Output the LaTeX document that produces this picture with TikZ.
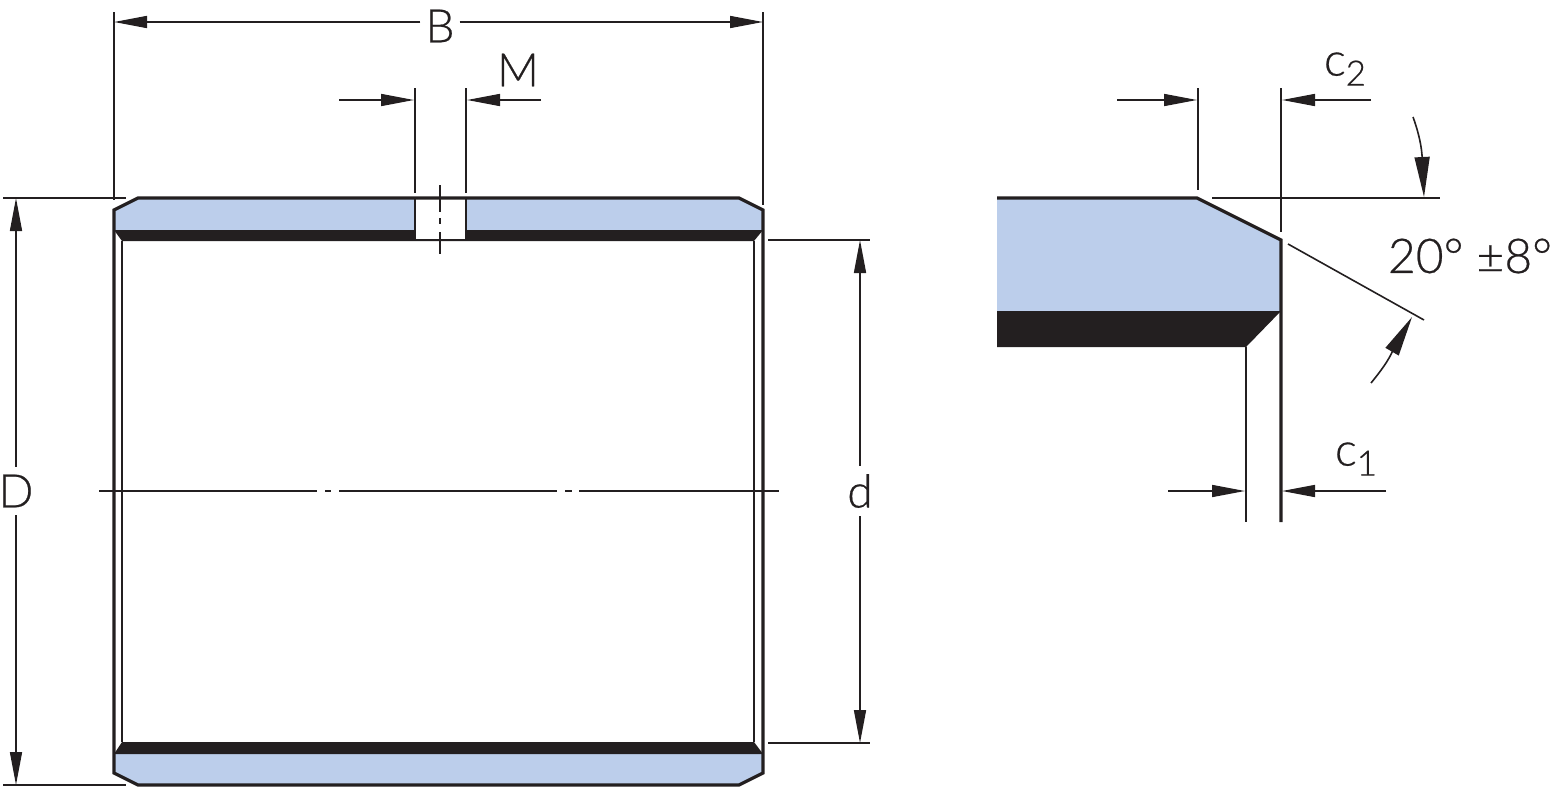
\documentclass[tikz,border=0pt]{standalone}
\usepackage{fontspec}
\setmainfont{Lato}[UprightFont=* Light, UprightFeatures={FakeBold=0.5}]
\usetikzlibrary{arrows.meta}
\definecolor{ringblue}{HTML}{BCCEEB}
\definecolor{ringblack}{HTML}{231F20}
\newcommand{\subtxt}[1]{\raisebox{-10pt}{\fontsize{35}{35}\selectfont #1}}
\tikzset{
	outline/.style={draw=ringblack, line width=3.2pt, line join=miter},
	innerline/.style={draw=ringblack, line width=2.4pt},
	thinline/.style={draw=ringblack, line width=1.6pt},
	dim/.style={thinline, -{Triangle[length=33pt, width=12pt]}},
	bigdim/.style={thinline, -{Triangle[length=40pt, width=15pt]}},
	lbl/.style={font=\fontsize{46}{50}\selectfont, text=ringblack, inner sep=0pt},
	gaplbl/.style={lbl, fill=white, inner xsep=5pt, inner ysep=8pt},
}
\begin{document}
\begin{tikzpicture}[x=1pt, y=-1pt]

	\useasboundingbox (0,0) rectangle (1552,787);

	% 1. Bushing section (left view)
	\fill[ringblue] (138,198) -- (739,198) -- (763,210) -- (763,230) -- (114,230) -- (114,210) -- cycle;
	\fill[ringblack] (114,230) -- (763,230) -- (754,241) -- (122,241) -- cycle;
	\fill[ringblue] (114,754) -- (763,754) -- (763,773) -- (739,785) -- (138,785) -- (114,773) -- cycle;
	\fill[ringblack] (122,742) -- (754,742) -- (763,754) -- (114,754) -- cycle;
	\fill[white] (415,198) rectangle (466,240);
	\draw[outline] (114,754) -- (114,773) -- (138,785) -- (739,785) -- (763,773) -- (763,210) -- (739,198) -- (138,198) -- (114,210) -- cycle;
	\draw[innerline] (415,198) -- (415,240) -- (466,240) -- (466,198);
	\draw[innerline] (122,241) -- (122,742);
	\draw[innerline] (754,241) -- (754,742);

	% 2. Extension lines of the left view
	\coordinate (Bl) at (114,22);
	\coordinate (Br) at (763,22);
	\coordinate (Da) at (16,198);
	\coordinate (Db) at (16,785);
	\coordinate (da) at (860,240);
	\coordinate (db) at (860,743);
	\draw[thinline] (114,12) -- (114,200);
	\draw[thinline] (763,12) -- (763,205);
	\draw[thinline] (3,198) -- (126,198);
	\draw[thinline] (3,785) -- (126,785);
	\draw[thinline] (768,240) -- (870,240);
	\draw[thinline] (768,743) -- (870,743);
	\draw[thinline] (415,88) -- (415,193);
	\draw[thinline] (466,88) -- (466,193);

	% 3. Center lines
	\draw[thinline] (99,491) -- (317,491);
	\draw[thinline] (325,491) -- (331,491);
	\draw[thinline] (339,491) -- (557,491);
	\draw[thinline] (565,491) -- (572,491);
	\draw[thinline] (579,491) -- (779,491);
	\draw[thinline] (440,185) -- (440,212);
	\draw[thinline] (440,218) -- (440,224);
	\draw[thinline] (440,232) -- (440,254);

	% 4. Dimensions of the left view
	\node[gaplbl] (B) at (440,26) {B};
	\node[gaplbl] (D) at (16,491) {D};
	\node[gaplbl] (d) at (860,491) {d};
	\node[lbl] (M) at (518,70) {M};
	\draw[dim] (B.west |- Bl) -- (Bl);
	\draw[dim] (B.east |- Br) -- (Br);
	\draw[dim] (D) -- (Da);
	\draw[dim] (D) -- (Db);
	\draw[dim] (d) -- (da);
	\draw[dim] (d) -- (db);
	\coordinate (Ml) at (339,100);
	\coordinate (Mla) at (414,100);
	\coordinate (Mr) at (541,100);
	\coordinate (Mra) at (467,100);
	\draw[dim] (Ml) -- (Mla);
	\draw[dim] (Mr) -- (Mra);

	% 5. Chamfer detail (right view)
	\fill[ringblue] (997,198) -- (1197,198) -- (1281,240) -- (1281,311) -- (997,311) -- cycle;
	\fill[ringblack] (997,311) -- (1281,311) -- (1246,347) -- (997,347) -- cycle;
	\draw[outline] (997,198) -- (1197,198) -- (1281,240) -- (1281,522);
	\draw[innerline] (1246,347) -- (1246,522);

	% 6. Dimensions of the detail
	\node[lbl] (c2) at (1345,69) {c\subtxt{2}};
	\node[lbl] (c1) at (1356,459) {c\subtxt{1}};
	\node[lbl, font=\fontsize{48}{50}\selectfont] (angle) at (1470,256) {20° ±8°};
	\draw[thinline] (1198,88) -- (1198,190);
	\draw[thinline] (1281,88) -- (1281,232);
	\draw[thinline] (1212,198) -- (1440,198);
	\draw[thinline] (1288,244) -- (1424,320);
	\coordinate (c2l) at (1117,100);
	\coordinate (c2la) at (1197,100);
	\coordinate (c2r) at (1371,100);
	\coordinate (c2ra) at (1282,100);
	\coordinate (c1l) at (1168,491);
	\coordinate (c1la) at (1245,491);
	\coordinate (c1r) at (1386,491);
	\coordinate (c1ra) at (1282,491);
	\draw[dim] (c2l) -- (c2la);
	\draw[dim] (c2r) -- (c2ra);
	\draw[dim] (c1l) -- (c1la);
	\draw[dim] (c1r) -- (c1ra);
	\coordinate (a1) at (1413,117);
	\coordinate (a1a) at (1424,197);
	\coordinate (a2) at (1371,383);
	\coordinate (a2a) at (1412,317);
	\draw[bigdim] (a1) .. controls (1417,128) and (1421,142) .. (1422,155) -- (a1a);
	\draw[bigdim] (a2) .. controls (1380,372) and (1389,360) .. (1393,350) -- (a2a);

\end{tikzpicture}
\end{document}
